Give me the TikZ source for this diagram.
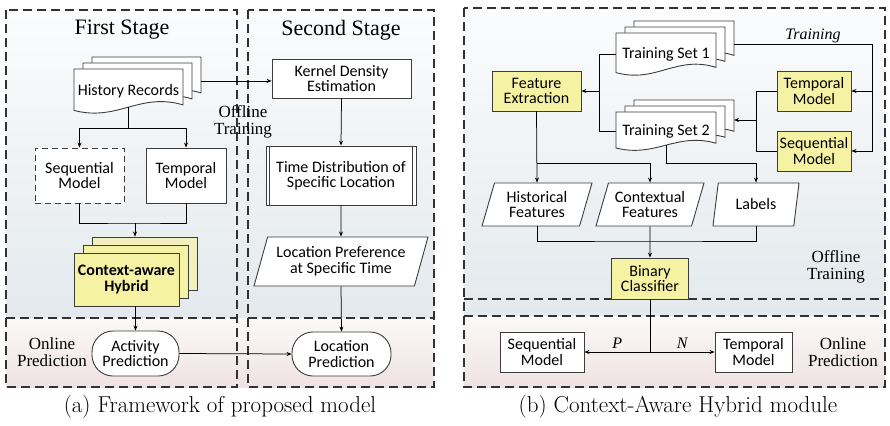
\documentclass[tikz,border=0pt]{standalone}
\usepackage{fontspec}
\newfontfamily\calibri{Carlito}
\newfontfamily\cambria{Liberation Serif}
\usetikzlibrary{arrows.meta,shapes.geometric,positioning}

\definecolor{boxyellow}{RGB}{246,242,164}
\definecolor{paleyellow}{RGB}{243,240,192}
\definecolor{bluetop}{RGB}{251,252,253}
\definecolor{bluebot}{RGB}{227,233,237}
\definecolor{pinktop}{RGB}{252,249,249}
\definecolor{pinkbot}{RGB}{239,226,226}
\definecolor{edgegray}{RGB}{60,60,60}
\definecolor{dashgray}{RGB}{50,50,50}

\tikzset{
  box/.style={draw=edgegray, line width=0.9pt, fill=white, align=center, inner sep=2pt,
    font=\calibri\fontsize{16}{15.5}\selectfont},
  yellowbox/.style={box, fill=boxyellow},
  terminal/.style={box, rounded corners=21pt},
  iobox/.style={box, trapezium, trapezium left angle=65, trapezium right angle=115,
    trapezium stretches body, inner sep=0pt},
  doctext/.style={align=center, inner sep=0pt, font=\calibri\fontsize{16}{15.5}\selectfont},
  docsheet/.style={draw=edgegray, line width=0.9pt, fill=white},
  stagebox/.style={draw=dashgray, line width=1.1pt, dash pattern=on 9pt off 5pt},
  stagetitle/.style={font=\cambria\fontsize{22}{22}\selectfont},
  phase/.style={font=\cambria\fontsize{17}{17}\selectfont, align=center},
  edgetag/.style={font=\cambria\itshape\fontsize{16}{16}\selectfont},
  arr/.style={-{Stealth[length=5pt,width=4pt]}, line width=0.75pt},
  link/.style={line width=0.75pt},
  subcap/.style={font=\fontsize{23}{27}\selectfont},
}

% one sheet: x, y (top left), width, height
\newcommand\docsheet[4]{%
  \draw[docsheet] ({#1},{#2}) -- ({#1+#3},{#2}) -- ({#1+#3},{#2+0.78*#4})
    .. controls ({#1+0.6*#3},{#2+0.5*#4}) and ({#1+0.4*#3},{#2+1.15*#4}) .. ({#1},{#2+0.9*#4}) -- cycle;}
% stack of three sheets with a named text node
\newcommand\docstack[6]{%
  \docsheet{#2+18}{#3-12}{#4}{#5}
  \docsheet{#2+9}{#3-6}{#4}{#5}
  \docsheet{#2}{#3}{#4}{#5}
  \node[doctext, minimum width=#4pt, minimum height={0.7*#5pt}] (#1) at ({#2+0.5*#4},{#3+0.48*#5}) {#6};
  \coordinate (#1-back) at ({#2+#4+18},{#3-12+0.52*#5});}

\begin{document}
\begin{tikzpicture}[x=1pt,y=-1pt]
  \useasboundingbox (0,0) rectangle (890,425);

  \shade[top color=bluetop,bottom color=bluebot] (6,10) rectangle (434,318);
  \shade[top color=pinktop,bottom color=pinkbot] (6,318) rectangle (434,387);
  \shade[top color=bluetop,bottom color=bluebot] (464,8) rectangle (885,316);
  \shade[top color=pinktop,bottom color=pinkbot] (464,316) rectangle (885,387);

  \draw[stagebox] (6,10) rectangle (237,387);
  \draw[stagebox] (248,10) rectangle (434,387);
  \draw[stagebox] (6,318) -- (237,318);
  \draw[stagebox] (248,318) -- (434,318);
  \draw[stagebox] (464,8) rectangle (885,387);
  \draw[stagebox] (464,299) -- (885,299);
  \draw[stagebox] (464,316) -- (885,316);

  \node[stagetitle] (first) at (122,30) {First Stage};
  \node[stagetitle] (second) at (341,30) {Second Stage};
  \node[phase] (offa) at (243,122) {Offline\\Training};
  \node[phase] (ona) at (52,352) {Online\\Prediction};
  \node[phase] (offb) at (836,267) {Offline\\Training};
  \node[phase] (onb) at (843,352) {Online\\Prediction};

  % (a) framework
  \docstack{hist}{74}{69}{109}{46}{History Records}
  \node[box, dash pattern=on 6pt off 4pt, minimum width=89pt, minimum height=55pt] (seqa) at (79.5,175.5) {Sequential\\Model};
  \node[box, minimum width=80pt, minimum height=55pt] (tmpa) at (186,175.5) {Temporal\\Model};
  \node[yellowbox, fill=paleyellow, minimum width=105pt, minimum height=53pt] (ctx3) at (144.5,263.5) {};
  \node[yellowbox, minimum width=105pt, minimum height=53pt] (ctx2) at (135.5,271.5) {};
  \node[yellowbox, minimum width=105pt, minimum height=53pt,
    font=\calibri\bfseries\fontsize{16}{15.5}\selectfont] (ctx) at (126.5,279.5) {Context-aware\\Hybrid};
  \node[terminal, minimum width=87pt, minimum height=45pt] (act) at (135.5,353.5) {Activity\\Prediction};

  \node[box, minimum width=139pt, minimum height=39pt] (kde) at (341.5,78.5) {Kernel Density\\Estimation};
  \node[box, minimum width=150pt, minimum height=59pt] (tdsl) at (341,175.5) {Time Distribution of\\Specific Location};
  \draw[link, draw=edgegray] ([xshift=4pt]tdsl.north west) -- ([xshift=4pt]tdsl.south west);
  \draw[link, draw=edgegray] ([xshift=-4pt]tdsl.north east) -- ([xshift=-4pt]tdsl.south east);
  \node[iobox, minimum width=174pt, minimum height=49pt] (lpref) at (341,261.5) {Location Preference\\at Specific Time};
  \node[terminal, minimum width=99pt, minimum height=44pt] (locp) at (341.5,354) {Location\\Prediction};

  \coordinate (join1) at (135,223);
  \draw[arr] (hist.south) -- ++(0,21) -| (seqa.north);
  \draw[arr] (hist.south) -- ++(0,21) -| (tmpa.north);
  \draw[link] (seqa.south) |- (join1) -| (tmpa.south);
  \draw[arr] (join1) -- (join1 |- ctx3.north);
  \draw[arr] (act.north |- ctx.south) -- (act.north);
  \draw[arr] (act.east) -- (locp.west);
  \draw[arr] (hist-back) -- (hist-back -| kde.west);
  \draw[arr] (kde.south) -- (tdsl.north);
  \draw[arr] (tdsl.south) -- (lpref.north);
  \draw[arr] (lpref.south) -- (locp.north);

  % (b) context-aware hybrid
  \docstack{ts1}{616}{33}{100}{44}{Training Set 1}
  \docstack{ts2}{616}{112}{100}{40}{Training Set 2}
  \node[yellowbox, minimum width=89pt, minimum height=40pt] (fe) at (536.5,91) {Feature\\Extraction};
  \node[yellowbox, minimum width=74pt, minimum height=40pt] (tmpy) at (814,91) {Temporal\\Model};
  \node[yellowbox, minimum width=74pt, minimum height=40pt] (seqy) at (814,151) {Sequential\\Model};
  \node[iobox, minimum width=110pt, minimum height=43pt] (hisf) at (537,204.5) {Historical\\Features};
  \node[iobox, minimum width=108pt, minimum height=43pt] (conf) at (650,204.5) {Contextual\\Features};
  \node[iobox, minimum width=86pt, minimum height=43pt] (lab) at (756,204.5) {Labels};
  \node[yellowbox, minimum width=77pt, minimum height=41pt] (bc) at (650,278.5) {Binary\\Classifier};
  \node[box, minimum width=84pt, minimum height=40pt] (seqb) at (542,352) {Sequential\\Model};
  \node[box, minimum width=77pt, minimum height=40pt] (tmpb) at (753.5,352) {Temporal\\Model};
  \node[edgetag] (trtag) at (813,36) {Training};

  \coordinate (fesplit) at (599,91);
  \coordinate (fesplit2) at (537,163);
  \coordinate (bcjoin) at (650,241);
  \coordinate (outsplit) at (650,352);
  \coordinate (trdown) at (872,151);
  \coordinate (mjoin) at (756,120);
  \draw[link] (ts1.west) -| (fesplit) |- (ts2.west);
  \draw[arr] (fesplit) -- (fe.east);
  \draw[arr] (fe.south) -- (hisf.north);
  \draw[arr] (fesplit2) -| (conf.north);
  \draw[arr] (ts2.south) |- (lab.north |- fesplit2) -- (lab.north);
  \draw[link] (hisf.south) |- (bcjoin) -| (lab.south);
  \draw[arr] (conf.south) -- (bc.north);
  \draw[link] (bc.south) -- (outsplit);
  \draw[arr] (outsplit) -- (seqb.east) node[midway, above, edgetag] {P};
  \draw[arr] (outsplit) -- (tmpb.west) node[midway, above, edgetag] {N};
  \draw[arr] (ts1-back) -| (trdown) -- (seqy.east);
  \draw[arr] (tmpy.east -| trdown) -- (tmpy.east);
  \draw[link] (tmpy.west) -| (mjoin) |- (seqy.west);
  \draw[arr] (mjoin) -- (mjoin -| ts2-back);

  \node[subcap] (capa) at (220,407) {(a) Framework of proposed model};
  \node[subcap] (capb) at (678,407) {(b) Context-Aware Hybrid module};
\end{tikzpicture}
\end{document}
